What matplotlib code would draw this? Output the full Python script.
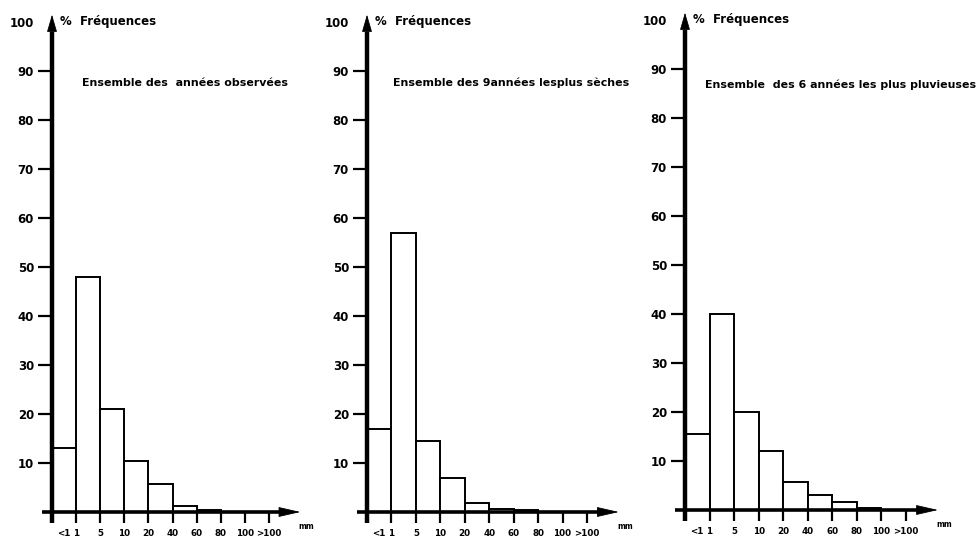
import numpy as np
import matplotlib.pyplot as plt

# rainfall classes (mm): bin edges are labelled, first class "<1" sits in its bin
edge_labels = ["", "1", "5", "10", "20", "40", "60", "80", "100", ">100"]
first_class = "<1"
y_ticks = [10, 20, 30, 40, 50, 60, 70, 80, 90, 100]

titles = [
    "Ensemble des  années observées",
    "Ensemble des 9années lesplus sèches",
    "Ensemble  des 6 années les plus pluvieuses",
]

# % frequency per rainfall class
freq_all = [13, 48, 21, 10.5, 5.7, 1.3, 0.5, 0, 0]
freq_dry = [17, 57, 14.5, 7, 1.9, 0.7, 0.4, 0, 0]
freq_wet = [15.5, 40, 20, 12, 5.8, 3, 1.7, 0.5, 0]
series = [freq_all, freq_dry, freq_wet]

W, H = 977, 539
# pixel box of each panel: x of class edge 0, x of edge 9, y of 0 %, y of 100 %
boxes = [(52, 269, 512, 22), (367, 587, 512, 22), (685, 906, 510, 20)]
title_pos = [(1.24, 87.5), (1.07, 87.5), (0.81, 86.7)]

plt.rcParams["font.family"] = ["DejaVu Sans"]
plt.rcParams["font.weight"] = "bold"

fig = plt.figure(figsize=(W / 100, H / 100), dpi=100)


def arrow_head(ax, tail, tip, length, width):
    ax.annotate("", xy=tip, xytext=tail, annotation_clip=False, zorder=5,
                arrowprops=dict(arrowstyle=f"-|>,head_length={length},head_width={width}",
                                lw=0.6, color="black", shrinkA=0, shrinkB=0,
                                mutation_scale=20))


for freqs, title, (x0, x9, y0, y100), (tx, ty) in zip(series, titles, boxes, title_pos):
    ax = fig.add_axes([x0 / W, 1 - y0 / H, (x9 - x0) / W, (y0 - y100) / H])
    ax.set_xlim(0, 9)
    ax.set_ylim(0, 100)
    for s in ax.spines.values():
        s.set_visible(False)

    ax.bar(np.arange(len(freqs)), freqs, width=1, align="edge", color="white",
           edgecolor="black", linewidth=1.4, clip_on=False, zorder=2)

    # axes: thick shafts plus filled arrow heads
    ax.plot([0, 0], [-2.2, 98], color="black", lw=3.2, clip_on=False,
            solid_capstyle="butt", zorder=4)
    ax.plot([-0.42, 9.8], [0, 0], color="black", lw=2.6, clip_on=False,
            solid_capstyle="butt", zorder=4)
    arrow_head(ax, (0, 90), (0, 101.5), 0.55, 0.16)
    arrow_head(ax, (9.0, 0), (10.3, 0), 0.7, 0.16)

    ax.set_yticks(y_ticks)
    ax.set_yticklabels([str(v) for v in y_ticks], fontsize=8.5, fontweight="bold")
    ax.tick_params(axis="y", direction="out", length=10, width=1.6, pad=3)
    ax.yaxis.get_major_ticks()[-1].tick1line.set_visible(False)

    ax.set_xticks(range(len(edge_labels)))
    ax.set_xticklabels(edge_labels, fontsize=6.3, fontweight="bold")
    ax.set_xticks([0.5], [first_class], minor=True, fontsize=6.3, fontweight="bold")
    ax.tick_params(axis="x", which="major", direction="out", length=8, width=1.6, pad=4)
    ax.tick_params(axis="x", which="minor", length=0, pad=12)

    ax.text(10.55, -3.0, "mm", fontsize=5.5, fontweight="bold", ha="center",
            va="center", clip_on=False)
    ax.text(0.33, 100.2, "%  Fréquences", fontsize=8.5, fontweight="bold",
            ha="left", va="center", clip_on=False)
    ax.text(tx, ty, title, fontsize=7.9, fontweight="bold", ha="left",
            va="center", clip_on=False)

fig.savefig("out.png", dpi=100, facecolor="white")
